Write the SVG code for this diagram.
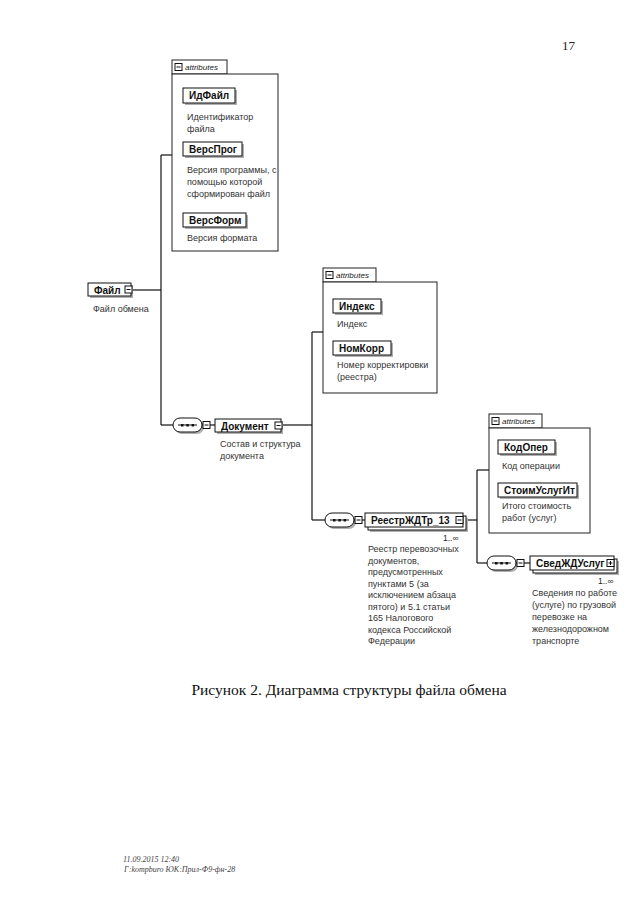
<svg xmlns="http://www.w3.org/2000/svg" xmlns:xlink="http://www.w3.org/1999/xlink" width="640" height="905" viewBox="0 0 640 905">
<style>
.bx{fill:#fff;stroke:#111;stroke-width:1}
.sh{fill:#b0b0b0;stroke:none}
.ab{fill:#fff;stroke:#222;stroke-width:1}
.ln{fill:none;stroke:#111;stroke-width:1.2}
.t{font-family:"Liberation Sans",Arial,sans-serif;font-size:10px;font-weight:bold;fill:#111}
.d{font-family:"Liberation Sans",Arial,sans-serif;font-size:9px;fill:#333}
.at{font-family:"Liberation Sans",Arial,sans-serif;font-size:8px;font-style:italic;fill:#222}
.m{font-family:"Liberation Sans",Arial,sans-serif;font-size:8.5px;fill:#222}
.cap{font-family:"Liberation Serif","Times New Roman",serif;font-size:15.5px;fill:#111}
.pg{font-family:"Liberation Serif","Times New Roman",serif;font-size:13px;fill:#222}
.ft{font-family:"Liberation Serif","Times New Roman",serif;font-size:8px;font-style:italic;fill:#444}
</style>
<defs>
<g id="icm"><rect x="0" y="0" width="7" height="7" fill="#fff" stroke="#111" stroke-width="1"/><path d="M1.5,3.5H5.5" stroke="#111" stroke-width="1"/></g>
<g id="icp"><rect x="0" y="0" width="7" height="7" fill="#fff" stroke="#111" stroke-width="1"/><path d="M1.5,3.5H5.5M3.5,1.5V5.5" stroke="#111" stroke-width="1"/></g>
<g id="seq">
<rect x="2" y="2" width="29" height="14" rx="7" class="sh"/>
<rect x="0" y="0" width="29" height="14" rx="7" class="bx"/>
<path d="M5,7H24" stroke="#111" stroke-width="1"/>
<rect x="8" y="6" width="2.5" height="2.5" fill="#111"/>
<rect x="13.3" y="6" width="2.5" height="2.5" fill="#111"/>
<rect x="18.6" y="6" width="2.5" height="2.5" fill="#111"/>
<path d="M29,7H30" stroke="#111"/>
<use xlink:href="#icm" x="30" y="3.5"/>
</g>
</defs>
<rect width="640" height="905" fill="#fff"/>

<text class="pg" x="562" y="50">17</text>

<g id="connectors">
<path class="ln" d="M132,290H161"/>
<path class="ln" d="M161,155V425"/>
<path class="ln" d="M161,155H172"/>
<path class="ln" d="M161,425H173"/>
<path class="ln" d="M210,425H215"/>
<path class="ln" d="M283,425H312"/>
<path class="ln" d="M312,332V520"/>
<path class="ln" d="M312,332H323"/>
<path class="ln" d="M312,520H325"/>
<path class="ln" d="M362,520H365"/>
<path class="ln" d="M463,520H477"/>
<path class="ln" d="M477,470V563"/>
<path class="ln" d="M477,470H489"/>
<path class="ln" d="M477,563H487"/>
<path class="ln" d="M524,563H530"/>
</g>

<g id="node-fail">
<rect x="90" y="285" width="43" height="13" class="sh"/>
<rect x="88" y="283" width="43" height="13" class="bx"/>
<text class="t" x="94" y="293.5">Файл</text>
<use xlink:href="#icm" x="125" y="286"/>
<text class="d" x="93" y="312">Файл обмена</text>
</g>

<g id="attrs-fail">
<rect x="172" y="60" width="55" height="14" class="ab"/>
<rect x="172" y="74" width="106" height="177" class="ab"/>
<use xlink:href="#icm" x="175" y="63.5"/>
<text class="at" x="185" y="70">attributes</text>
<g id="attr-idfail">
<rect x="185" y="90" width="52" height="15" class="sh"/>
<rect x="183" y="88" width="52" height="15" class="bx"/>
<text class="t" x="189" y="99">ИдФайл</text>
<text class="d" x="187" y="120">Идентификатор</text>
<text class="d" x="187" y="132">файла</text>
</g>
<g id="attr-versprog">
<rect x="185" y="144" width="59" height="14" class="sh"/>
<rect x="183" y="142" width="59" height="14" class="bx"/>
<text class="t" x="189" y="153">ВерсПрог</text>
<text class="d" x="187" y="173">Версия программы, с</text>
<text class="d" x="187" y="185">помощью которой</text>
<text class="d" x="187" y="197">сформирован файл</text>
</g>
<g id="attr-versform">
<rect x="185" y="215" width="63" height="14" class="sh"/>
<rect x="183" y="213" width="63" height="14" class="bx"/>
<text class="t" x="189" y="224">ВерсФорм</text>
<text class="d" x="187" y="241">Версия формата</text>
</g>
</g>

<g id="seq-1"><use xlink:href="#seq" x="173" y="418"/></g>

<g id="node-dokument">
<rect x="217" y="421" width="66" height="13" class="sh"/>
<rect x="215" y="419" width="66" height="13" class="bx"/>
<text class="t" x="221" y="429.5">Документ</text>
<use xlink:href="#icm" x="275" y="422"/>
<text class="d" x="220" y="447">Состав и структура</text>
<text class="d" x="220" y="459">документа</text>
</g>

<g id="attrs-dokument">
<rect x="323" y="268" width="53" height="14" class="ab"/>
<rect x="323" y="282" width="114" height="111" class="ab"/>
<use xlink:href="#icm" x="326" y="271.5"/>
<text class="at" x="336" y="278">attributes</text>
<g id="attr-indeks">
<rect x="335" y="301" width="48" height="14" class="sh"/>
<rect x="333" y="299" width="48" height="14" class="bx"/>
<text class="t" x="339" y="310">Индекс</text>
<text class="d" x="337" y="327">Индекс</text>
</g>
<g id="attr-nomkorr">
<rect x="335" y="343" width="58" height="14" class="sh"/>
<rect x="333" y="341" width="58" height="14" class="bx"/>
<text class="t" x="339" y="352">НомКорр</text>
<text class="d" x="337" y="368">Номер корректировки</text>
<text class="d" x="337" y="380">(реестра)</text>
</g>
</g>

<g id="seq-2"><use xlink:href="#seq" x="325" y="513"/></g>

<g id="node-reestr">
<rect x="370" y="518" width="98" height="14" class="sh"/>
<rect x="368" y="516" width="98" height="14" class="bx"/>
<rect x="365" y="513" width="98" height="14" class="bx"/>
<text class="t" x="371" y="524">РеестрЖДТр_13</text>
<use xlink:href="#icm" x="456" y="516.5"/>
<text class="m" x="443" y="541">1..∞</text>
<text class="d" x="368" y="552">Реестр перевозочных</text>
<text class="d" x="368" y="563.5">документов,</text>
<text class="d" x="368" y="575">предусмотренных</text>
<text class="d" x="368" y="586.5">пунктами 5 (за</text>
<text class="d" x="368" y="598">исключением абзаца</text>
<text class="d" x="368" y="609.5">пятого) и 5.1 статьи</text>
<text class="d" x="368" y="621">165 Налогового</text>
<text class="d" x="368" y="632.5">кодекса Российской</text>
<text class="d" x="368" y="644">Федерации</text>
</g>

<g id="attrs-reestr">
<rect x="489" y="414" width="53" height="14" class="ab"/>
<rect x="489" y="428" width="101" height="105" class="ab"/>
<use xlink:href="#icm" x="492" y="417.5"/>
<text class="at" x="502" y="424">attributes</text>
<g id="attr-kodoper">
<rect x="500" y="442" width="57" height="14" class="sh"/>
<rect x="498" y="440" width="57" height="14" class="bx"/>
<text class="t" x="504" y="451">КодОпер</text>
<text class="d" x="502" y="469">Код операции</text>
</g>
<g id="attr-stoim">
<rect x="500" y="485" width="79" height="14" class="sh"/>
<rect x="498" y="483" width="79" height="14" class="bx"/>
<text class="t" x="504" y="494">СтоимУслугИт</text>
<text class="d" x="502" y="509">Итого стоимость</text>
<text class="d" x="502" y="521">работ (услуг)</text>
</g>
</g>

<g id="seq-3"><use xlink:href="#seq" x="487" y="556"/></g>

<g id="node-sved">
<rect x="535" y="561" width="84" height="14" class="sh"/>
<rect x="533" y="559" width="84" height="14" class="bx"/>
<rect x="530" y="556" width="84" height="14" class="bx"/>
<text class="t" x="536" y="567">СведЖДУслуг</text>
<use xlink:href="#icp" x="607" y="559.5"/>
<text class="m" x="598" y="584">1..∞</text>
<text class="d" x="532" y="596">Сведения по работе</text>
<text class="d" x="532" y="608">(услуге) по грузовой</text>
<text class="d" x="532" y="620">перевозке на</text>
<text class="d" x="532" y="632">железнодорожном</text>
<text class="d" x="532" y="644">транспорте</text>
</g>

<text class="cap" x="349" y="695" text-anchor="middle">Рисунок 2. Диаграмма структуры файла обмена</text>

<text class="ft" x="123" y="862">11.09.2015 12:40</text>
<text class="ft" x="124" y="872">Г:kompburo ЮК:Прил-Ф9-фн-28</text>
</svg>
